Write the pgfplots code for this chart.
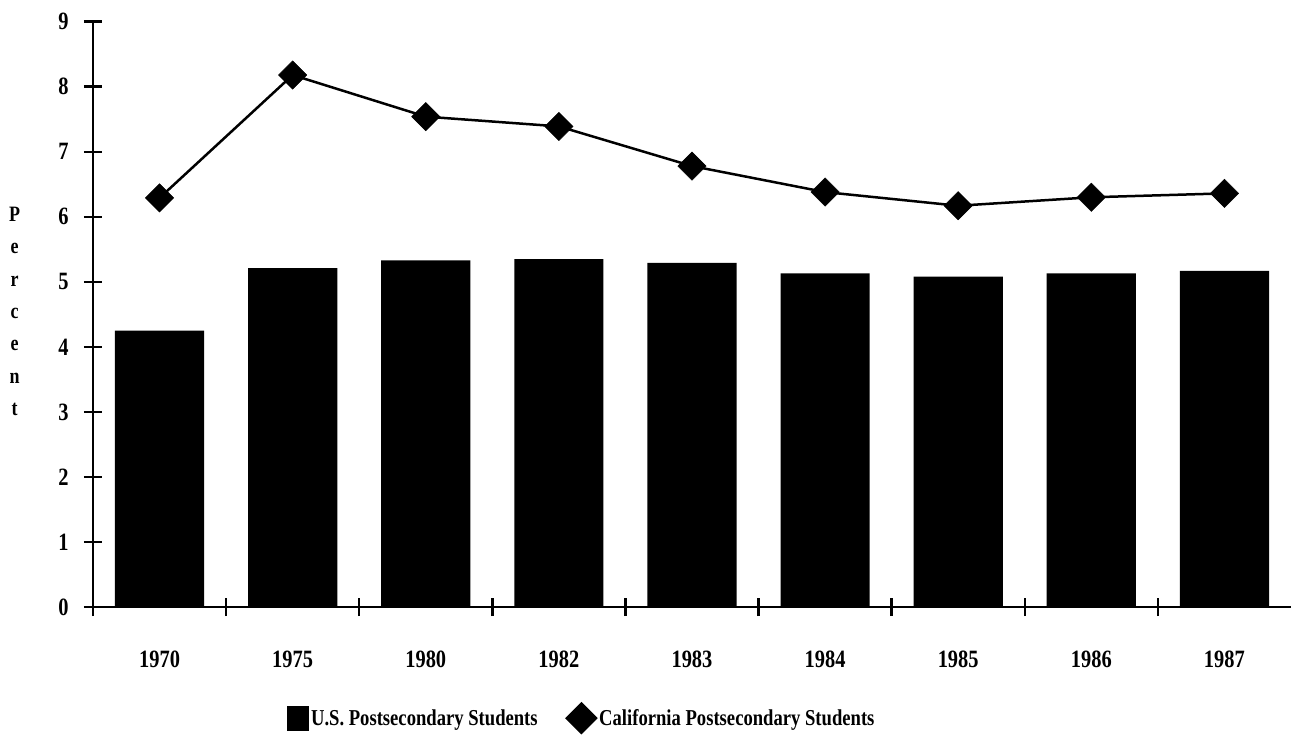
\documentclass[border=0pt]{standalone}
\usepackage{pgfplots}
\pgfplotsset{compat=1.18}
\usepackage{fontspec}
\setmainfont{Liberation Serif}[FakeStretch=0.82]
\begin{document}
\begin{tikzpicture}
\useasboundingbox (0,0) rectangle (1291bp,741bp);
\begin{axis}[
  at={(93bp,134bp)}, anchor=south west,
  scale only axis, width=1198bp, height=585.3bp,
  xmin=0, xmax=9, ymin=0, ymax=9,
  axis x line=bottom, axis y line=left,
  axis line style={-, line width=2.5bp},
  every tick/.style={black, line width=2.5bp},
  tick align=center, major tick length=18bp,
  xtick={0,...,8}, xticklabels={},
  extra x ticks={0.5,1.5,...,8.5},
  extra x tick labels={1970,1975,1980,1982,1983,1984,1985,1986,1987},
  extra x tick style={major tick length=0pt, xticklabel style={yshift=-40bp}},
  ytick={0,...,9},
  /pgf/number format/assume math mode=true,
  tick label style={font=\bfseries\fontsize{25}{25}\selectfont},
  yticklabel style={xshift=-12bp},
  ylabel={P\\e\\r\\c\\e\\n\\t},
  ylabel style={at={(axis description cs:-0.0655,0.505)}, rotate=-90, anchor=center, align=center, font=\bfseries\fontsize{22}{32.5}\selectfont},
  legend style={at={(axis description cs:0.408,-0.19)}, anchor=center, draw=none, fill=none, font=\bfseries\fontsize{22.8}{24}\selectfont, legend columns=2, /tikz/every even column/.append style={column sep=26bp}},
  clip=false,
]
\addplot[ybar, bar width=0.67, fill=black, draw=none,
  legend image code/.code={\fill[black] (0bp,-12.5bp) rectangle (22bp,12.5bp);}]
  coordinates {(0.5,4.25) (1.5,5.21) (2.5,5.33) (3.5,5.35) (4.5,5.29) (5.5,5.13) (6.5,5.08) (7.5,5.13) (8.5,5.17)};
\addlegendentry{U.S. Postsecondary Students}
\addplot[black, line width=2.5bp, mark=square*, mark size=10bp, mark options={rotate=45, solid, line width=0.5bp},
  legend image code/.code={\fill[black] (0bp,0bp) -- (14.5bp,14.5bp) -- (29bp,0bp) -- (14.5bp,-14.5bp) -- cycle;}]
  coordinates {(0.5,6.29) (1.5,8.18) (2.5,7.54) (3.5,7.39) (4.5,6.78) (5.5,6.38) (6.5,6.17) (7.5,6.30) (8.5,6.36)};
\addlegendentry{California Postsecondary Students}
\end{axis}
\end{tikzpicture}
\end{document}
